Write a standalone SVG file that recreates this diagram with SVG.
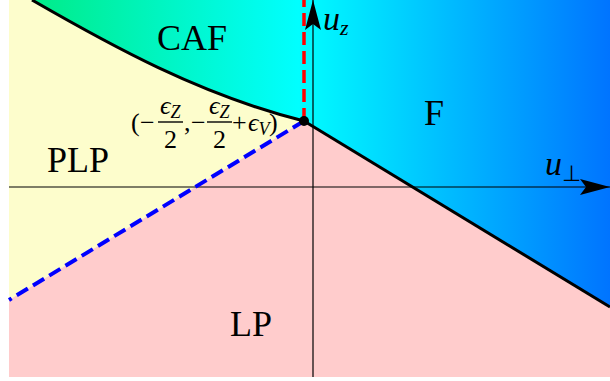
<svg xmlns="http://www.w3.org/2000/svg" width="610" height="381" viewBox="0 0 610 381">
<defs>
<linearGradient id="gTop" gradientUnits="userSpaceOnUse" x1="33" y1="0" x2="610" y2="0">
<stop offset="0" stop-color="#00ec88"/>
<stop offset="0.46" stop-color="#00ffff"/>
<stop offset="1" stop-color="#0074ff"/>
</linearGradient>
<marker id="arr" viewBox="0 0 30 16" refX="30" refY="8" markerWidth="30" markerHeight="16" markerUnits="userSpaceOnUse" orient="auto">
<path d="M0,0 L30,8 L0,16 L6,8 Z" fill="#000"/>
</marker>
<style>
.lbl{font-family:"Liberation Serif","Times New Roman",serif;fill:#000}
.big{font-size:36px}
.it{font-style:italic}
.m{font-size:26px}
.s{font-size:18px}
.bd{stroke:#000;stroke-width:3;fill:none}
.ax{stroke:#000;stroke-width:1.2;fill:none}
</style>
</defs>
<rect width="610" height="381" fill="#fff"/>
<g id="regions">
<path id="region-top" d="M32,0 C110,45 200,95 304,121 L610,307 L610,0 Z" fill="url(#gTop)"/>
<path id="region-PLP" d="M9,0 L32,0 C110,45 200,95 304,121 L9,300 Z" fill="#fdfdcc"/>
<path id="region-LP" d="M9,300 L304,121 L610,307 L610,377 L9,377 Z" fill="#ffcccc"/>
</g>
<g id="connectors">
<line class="ax" x1="9" y1="187" x2="610" y2="187" marker-end="url(#arr)"/>
<line class="ax" x1="313" y1="377" x2="313" y2="0" marker-end="url(#arr)"/>
<path class="bd" d="M32,0 C110,45 200,95 304,121"/>
<line class="bd" x1="304" y1="121" x2="610" y2="307"/>
<line x1="304" y1="121" x2="304" y2="0" stroke="#ff0000" stroke-width="3.5" stroke-dasharray="13,6"/>
<line x1="304" y1="121" x2="9" y2="300" stroke="#0000ff" stroke-width="4" stroke-dasharray="13,6"/>
<circle cx="304" cy="121" r="5" fill="#000"/>
</g>
<g id="labels">
<text class="lbl big" x="157" y="50">CAF</text>
<text class="lbl big" x="424" y="125">F</text>
<text class="lbl big" x="47" y="172">PLP</text>
<text class="lbl big" x="230" y="336">LP</text>
<text class="lbl it" x="323" y="30" font-size="34">u<tspan font-size="22" dy="5">z</tspan></text>
<text class="lbl it" x="545" y="175" font-size="34">u<tspan font-size="22" font-style="normal" dy="6">⊥</tspan></text>
</g>
<g id="point-label" class="lbl m">
<text x="131" y="131">(</text>
<text x="140" y="131">−</text>
<text class="it" x="160" y="114">ϵ<tspan class="s" dy="4">Z</tspan></text>
<line x1="158" y1="122" x2="183" y2="122" stroke="#000" stroke-width="1.4"/>
<text x="170.5" y="148" text-anchor="middle">2</text>
<text x="184" y="131">,</text>
<text x="191" y="131">−</text>
<text class="it" x="209" y="114">ϵ<tspan class="s" dy="4">Z</tspan></text>
<line x1="207" y1="122" x2="232" y2="122" stroke="#000" stroke-width="1.4"/>
<text x="219.5" y="148" text-anchor="middle">2</text>
<text x="232" y="131">+</text>
<text class="it" x="248" y="131">ϵ<tspan class="s" dy="4">V</tspan></text>
<text x="269" y="131">)</text>
</g>
</svg>
